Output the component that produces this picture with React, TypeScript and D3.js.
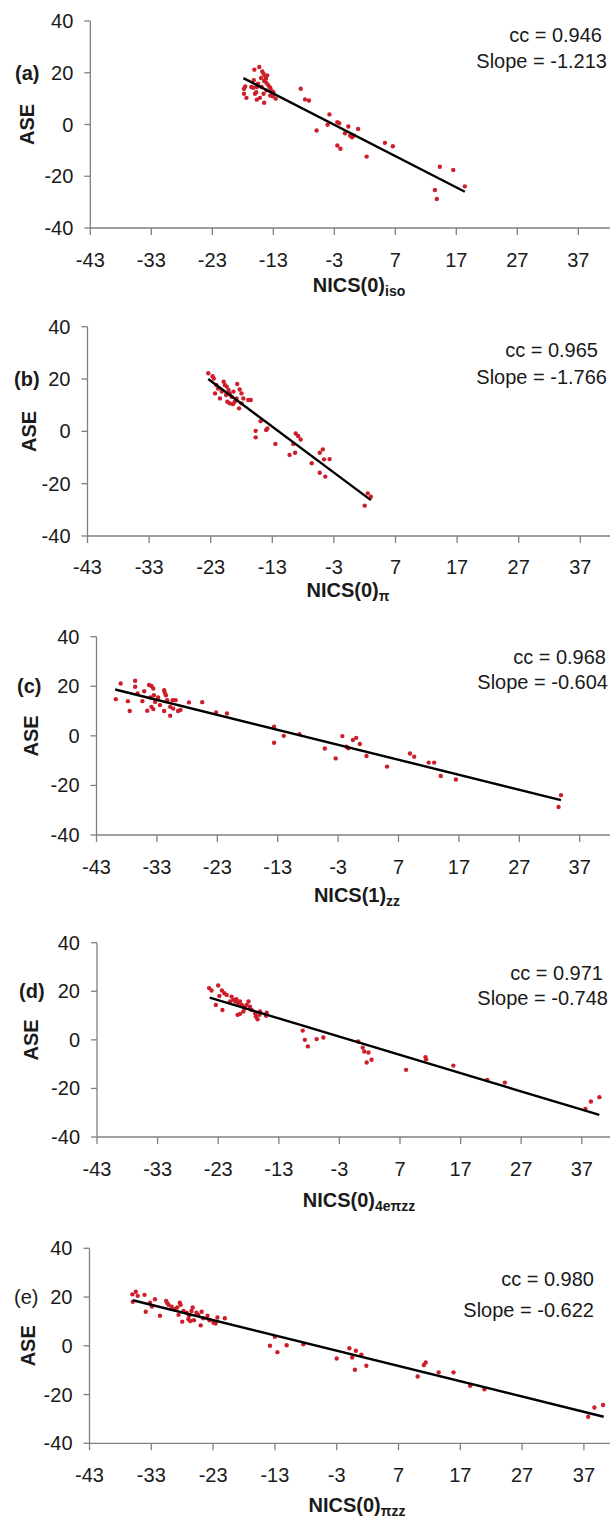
import React from "react";
import * as d3 from "d3";

type Pt = [number, number];

const xTicks = [-43, -33, -23, -13, -3, 7, 17, 27, 37];
const yTicks = [40, 20, 0, -20, -40];
const panelTags = ["(a)", "(b)", "(c)", "(d)", "(e)"];
const titleMains = ["NICS(0)", "NICS(0)", "NICS(1)", "NICS(0)", "NICS(0)"];
const titleSubs = ["iso", "π", "zz", "4eπzz", "πzz"];
const ccValues = ["0.946", "0.965", "0.968", "0.971", "0.980"];
const slopeValues = ["-1.213", "-1.766", "-0.604", "-0.748", "-0.622"];

// (a) NICS(0)iso vs ASE
const isoPoints: Pt[] = [
  [-16.1, 21.2], [-15.3, 22.2], [-14.8, 20.5], [-14.6, 19.6], [-14.3, 18.6], [-14.2, 17.7],
  [-14.5, 16.8], [-14.1, 16.0], [-13.8, 15.1], [-13.5, 14.2], [-13.3, 13.2], [-16.2, 17.1],
  [-15.7, 14.5], [-16.3, 14.2], [-17.6, 14.7], [-17.8, 13.8], [-17.8, 11.9], [-17.4, 10.3],
  [-16.0, 11.9], [-15.7, 9.6], [-15.2, 10.3], [-14.6, 11.9], [-14.5, 8.4], [-13.5, 11.2],
  [-13.1, 10.9], [-12.6, 10.0], [-14.1, 13.2], [-14.9, 14.5], [-15.5, 15.8], [-16.6, 14.5],
  [-15.0, 18.0], [-14.0, 19.0], [-15.8, 12.5], [-13.0, 12.5],
  [-8.5, 13.8], [-7.8, 9.7], [-7.15, 9.3], [-3.8, 3.9], [-2.5, 0.9], [-2.2, 0.5],
  [-0.7, -0.8], [-0.4, -4.3], [-1.25, -3.4], [-4.1, -0.1], [-5.9, -2.3], [-2.5, -8.1],
  [-2.0, -9.4], [-0.1, -4.9], [0.2, -4.3], [0.9, -1.7], [2.3, -12.4], [5.3, -7.1],
  [6.6, -8.4], [14.3, -16.3], [16.5, -17.6], [13.5, -25.3], [13.8, -28.8], [18.4, -23.9],
];

// (b) NICS(0)π vs ASE
const piPoints: Pt[] = [
  [-23.4, 22.2], [-22.7, 21.1], [-22.5, 20.2], [-22.1, 17.7], [-21.8, 16.4], [-22.3, 14.5],
  [-21.5, 12.6], [-20.9, 19.0], [-20.7, 17.7], [-20.4, 17.1], [-20.1, 15.8], [-19.9, 14.5],
  [-19.6, 13.2], [-20.3, 11.3], [-19.9, 10.7], [-19.4, 10.4], [-19.1, 11.3], [-18.7, 18.1],
  [-18.3, 16.0], [-18.0, 14.5], [-17.7, 12.6], [-18.4, 8.8], [-18.0, 10.7], [-16.9, 12.0],
  [-16.5, 12.0], [-18.8, 12.6], [-19.3, 15.2], [-21.2, 15.2], [-20.5, 13.9],
  [-14.9, 3.9], [-15.7, 0.2], [-13.8, 1.1], [-14.0, 0.5], [-15.7, -2.3], [-12.5, -4.8],
  [-10.2, -9.0], [-9.3, -8.2], [-9.6, -4.8], [-9.2, -0.8], [-8.8, -1.8], [-8.4, -3.1],
  [-6.6, -12.2], [-5.3, -8.2], [-4.8, -6.9], [-4.6, -10.7], [-3.7, -10.6], [-5.3, -15.8],
  [-4.4, -17.3], [2.5, -23.7], [3.0, -25.0], [2.0, -28.4],
];

// (c) NICS(1)zz vs ASE
const zz1Points: Pt[] = [
  [-39.8, 14.8], [-39.0, 21.1], [-37.8, 14.0], [-37.5, 10.0], [-36.6, 22.2], [-36.6, 19.8],
  [-36.2, 17.1], [-35.4, 14.0], [-35.1, 18.0], [-34.6, 10.1], [-34.3, 20.5], [-33.9, 20.1],
  [-33.6, 19.1], [-33.5, 16.4], [-34.1, 15.5], [-33.9, 11.7], [-33.6, 10.8], [-33.3, 13.7],
  [-32.8, 15.5], [-32.5, 12.4], [-31.8, 18.4], [-31.7, 17.4], [-31.5, 16.4], [-31.3, 14.4],
  [-31.8, 10.0], [-30.8, 11.7], [-30.8, 8.1], [-30.4, 14.4], [-30.3, 11.0], [-29.9, 14.4],
  [-29.5, 10.0], [-29.1, 10.4], [-27.7, 13.5], [-25.5, 13.6], [-23.2, 9.4], [-21.4, 9.0],
  [-13.6, 3.7], [-13.6, -2.8], [-12.0, 0.0], [-9.4, 0.7], [-5.2, -5.1], [-3.4, -9.1],
  [-2.3, -0.1], [-1.6, -4.4], [-1.3, -5.0], [-0.55, -1.7], [0.0, -0.8], [0.6, -3.3],
  [1.7, -8.1], [5.1, -12.4], [8.9, -7.1], [9.6, -8.4], [12.0, -10.8], [12.9, -10.8],
  [14.0, -16.2], [16.5, -17.6], [33.5, -28.7], [33.9, -23.9],
];

// (d) NICS(0)4eπzz vs ASE
const zz4Points: Pt[] = [
  [-24.5, 21.3], [-24.1, 20.3], [-23.0, 22.4], [-23.4, 14.4], [-22.3, 12.3], [-22.4, 20.3],
  [-22.0, 19.2], [-21.6, 18.5], [-22.8, 18.1], [-20.8, 17.8], [-20.5, 16.5], [-20.2, 15.8],
  [-20.0, 16.7], [-19.7, 15.1], [-19.4, 15.8], [-19.1, 14.4], [-18.85, 13.7], [-19.8, 10.3],
  [-19.4, 10.7], [-18.85, 11.7], [-18.6, 13.0], [-18.3, 14.4], [-17.75, 13.7], [-17.5, 12.3],
  [-16.9, 11.0], [-16.8, 9.6], [-16.5, 8.5], [-16.2, 10.3], [-16.1, 11.7], [-15.1, 9.9],
  [-15.0, 11.2], [-21.05, 15.8], [-18.0, 15.8],
  [-9.05, 3.8], [-8.7, 0.0], [-8.2, -2.7], [-6.75, 0.3], [-5.65, 0.95], [0.1, -0.7],
  [0.85, -3.2], [1.1, -4.8], [1.8, -5.2], [1.5, -9.3], [2.3, -8.2], [8.0, -12.35],
  [11.2, -7.1], [11.3, -8.0], [15.8, -10.6], [21.4, -16.5], [24.3, -17.6], [37.6, -28.5],
  [38.5, -25.4], [39.9, -23.6],
];

// (e) NICS(0)πzz vs ASE
const zzPiPoints: Pt[] = [
  [-36.07, 21.1], [-35.5, 22.2], [-35.2, 20.5], [-36.0, 18.1], [-34.1, 20.9], [-33.9, 14.0],
  [-33.2, 17.7], [-32.9, 16.1], [-32.4, 19.1], [-31.6, 12.3], [-30.6, 18.4], [-30.4, 17.5],
  [-30.2, 16.8], [-29.7, 16.0], [-29.2, 15.0], [-28.8, 15.7], [-28.6, 12.7], [-28.4, 17.7],
  [-28.25, 16.8], [-28.0, 9.9], [-27.8, 14.3], [-27.3, 13.6], [-27.0, 10.9], [-26.9, 12.3],
  [-26.7, 10.2], [-26.5, 14.3], [-26.3, 15.7], [-26.1, 10.5], [-25.7, 13.6], [-25.4, 12.7],
  [-25.0, 8.4], [-24.85, 14.0], [-24.6, 11.3], [-23.9, 12.3], [-23.6, 10.5], [-22.95, 9.5],
  [-22.6, 9.1], [-22.3, 11.6], [-21.1, 11.3],
  [-13.8, 0.0], [-13.0, 3.7], [-12.6, -2.6], [-11.1, 0.24], [-8.4, 0.65], [-3.0, -5.2],
  [-0.95, -1.0], [-0.5, -4.8], [-0.05, -9.8], [0.1, -2.0], [1.0, -3.6], [1.8, -8.2],
  [10.1, -12.6], [11.1, -7.9], [11.4, -6.8], [13.5, -10.9], [15.9, -10.9], [18.6, -16.4],
  [20.9, -17.8], [37.7, -29.1], [38.7, -25.3], [40.1, -24.3],
];

// trend line end points
const isoFit: Pt[] = [[-17.9, 17.9], [18.4, -26.0]];
const piFit: Pt[] = [[-23.4, 20.0], [3.0, -26.3]];
const zz1Fit: Pt[] = [[-39.9, 18.7], [33.9, -25.9]];
const zz4Fit: Pt[] = [[-24.4, 17.4], [39.9, -30.9]];
const zzPiFit: Pt[] = [[-36.0, 18.7], [40.2, -29.1]];

const allPoints = [isoPoints, piPoints, zz1Points, zz4Points, zzPiPoints];
const allFits = [isoFit, piFit, zz1Fit, zz4Fit, zzPiFit];

const FONT = "'Liberation Sans', Arial, Helvetica, sans-serif";
const AXIS = "#7f7f86";
const DOT = "#cc1f2b";
const INK = "#1a1a1a";

// page positions of each panel (pixels)
const layout = [
  { ax: 90.3, unit: 6.1, top: 21, bottom: 228, lab: 260, tx: 359, ty: 285, ase: 26.5, tag: 15, ccX: 602, ccY: 35, slX: 607, slY: 61, bold: true },
  { ax: 87.5, unit: 6.16, top: 326.7, bottom: 536, lab: 567, tx: 348, ty: 590, ase: 29, tag: 14, ccX: 598, ccY: 350, slX: 607, slY: 377, bold: true },
  { ax: 96.5, unit: 6.04, top: 636.7, bottom: 835, lab: 867, tx: 357, ty: 895, ase: 31, tag: 17, ccX: 606, ccY: 657, slX: 608, slY: 682, bold: true },
  { ax: 97, unit: 6.06, top: 942.7, bottom: 1137, lab: 1169, tx: 359, ty: 1200, ase: 31, tag: 19, ccX: 603, ccY: 973, slX: 608, slY: 998, bold: true },
  { ax: 89.5, unit: 6.18, top: 1248.3, bottom: 1443.3, lab: 1475, tx: 357, ty: 1505, ase: 28, tag: 14, ccX: 594, ccY: 1279, slX: 594, slY: 1310, bold: false },
];

function Panel({ i }: { i: number }) {
  const L = layout[i];
  const x = d3.scaleLinear().domain([-43, 47]).range([L.ax, L.ax + 90 * L.unit]);
  const y = d3.scaleLinear().domain([-40, 40]).range([L.bottom, L.top]);
  const line = d3.line<Pt>().x((d) => x(d[0])).y((d) => y(d[1]));
  const pts = allPoints[i];

  return (
    <g fontFamily={FONT}>
      {/* axes */}
      <line x1={x(-43)} x2={620} y1={y(-40)} y2={y(-40)} stroke={AXIS} strokeWidth={1.3} />
      <line x1={x(-43)} x2={x(-43)} y1={y(40)} y2={y(-40)} stroke={AXIS} strokeWidth={1.3} />
      {yTicks.map((t) => (
        <g key={"y" + t}>
          <line x1={x(-43) - 6} x2={x(-43)} y1={y(t)} y2={y(t)} stroke={AXIS} strokeWidth={1.3} />
          <text x={x(-43) - 17} y={y(t)} textAnchor="end" dominantBaseline="central" fontSize={20} fill={INK}>
            {t}
          </text>
        </g>
      ))}
      {xTicks.map((t) => (
        <g key={"x" + t}>
          <line x1={x(t)} x2={x(t)} y1={y(-40)} y2={y(-40) + 7} stroke={AXIS} strokeWidth={1.3} />
          <text x={x(t)} y={L.lab} textAnchor="middle" dominantBaseline="central" fontSize={20} fill={INK}>
            {t}
          </text>
        </g>
      ))}

      {/* points */}
      {pts.map((d, k) => (
        <circle key={k} cx={x(d[0])} cy={y(d[1])} r={2.2} fill={DOT} />
      ))}

      {/* trend line */}
      <path d={line(allFits[i]) || ""} stroke="#000" strokeWidth={2.4} fill="none" />

      {/* labels */}
      <text x={L.tag} y={y(20)} dominantBaseline="central" fontSize={20} fontWeight={L.bold ? "bold" : "normal"} fill={INK}>
        {panelTags[i]}
      </text>
      <text
        transform={`translate(${L.ase},${y(0)}) rotate(-90)`}
        textAnchor="middle"
        dominantBaseline="central"
        fontSize={20}
        fontWeight="bold"
        fill={INK}
      >
        ASE
      </text>
      <text x={L.tx} y={L.ty} textAnchor="middle" dominantBaseline="central" fontSize={20} fontWeight="bold" fill={INK}>
        <tspan>{titleMains[i]}</tspan>
        <tspan fontSize={14} dy={6}>{titleSubs[i]}</tspan>
      </text>
      <text x={L.ccX} y={L.ccY} textAnchor="end" dominantBaseline="central" fontSize={20} fill={INK}>
        cc = {ccValues[i]}
      </text>
      <text x={L.slX} y={L.slY} textAnchor="end" dominantBaseline="central" fontSize={20} fill={INK}>
        Slope = {slopeValues[i]}
      </text>
    </g>
  );
}

export default function App() {
  return (
    <svg
      width={610}
      height={1518}
      style={{ position: "absolute", left: 0, top: 0, background: "#fff" }}
    >
      <rect width={610} height={1518} fill="#fff" />
      {layout.map((_, i) => (
        <Panel key={i} i={i} />
      ))}
    </svg>
  );
}
